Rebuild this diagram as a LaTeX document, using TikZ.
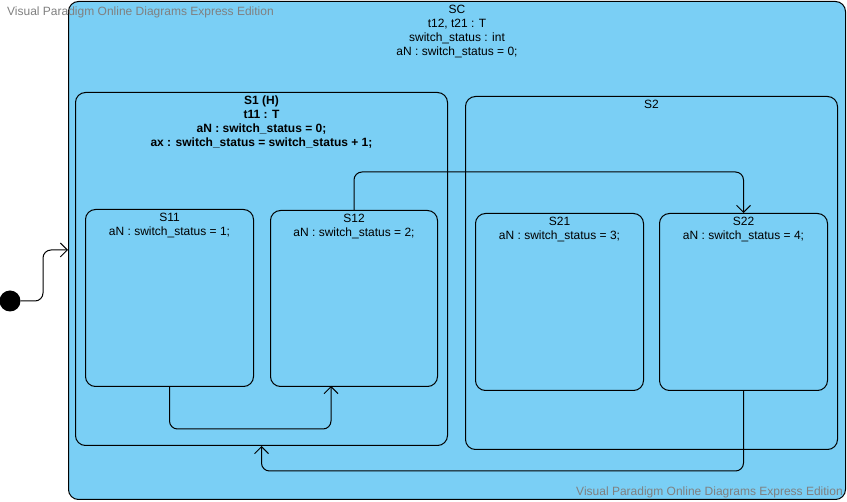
\documentclass[tikz,border=0pt]{standalone}
\usepackage{fontspec}
\setmainfont{Liberation Sans}
\usetikzlibrary{arrows.meta,calc}
\definecolor{stfill}{RGB}{122,207,245}
\definecolor{wmgray}{RGB}{128,128,128}
\begin{document}
\begin{tikzpicture}[x=1pt,y=-1pt,
  statebox/.style={draw=black,line width=1pt,fill=stfill,rounded corners=10pt,inner sep=0pt,anchor=north west},
  stxt/.style={anchor=north,inner sep=0pt,align=center,font=\fontsize{12}{14}\selectfont},
  wm/.style={inner sep=0pt,text=wmgray,font=\fontsize{12}{14}\selectfont},
  conn/.style={draw=black,line width=1pt,rounded corners=8pt,-{Straight Barb[length=7pt,width=14pt,line width=1pt]}}]
\useasboundingbox (0,0) rectangle (847,502);
\fill[white] (0,0) rectangle (847,502);
% containers
\node[statebox,minimum width=777pt,minimum height=498pt] (SC) at (68,1) {};
\node[stxt] (SCt) at ($(SC.north)+(0,4)$) {SC\\t12, t21 : T\\switch\_status : int\\aN : switch\_status = 0;};
\node[statebox,minimum width=372pt,minimum height=353pt] (S1) at (75,92) {};
\node[stxt,font=\fontsize{12}{14}\selectfont\bfseries] (S1t) at ($(S1.north)+(0,4)$) {S1 (H)\\t11 : T\\aN : switch\_status = 0;\\ax : switch\_status = switch\_status + 1;};
\node[statebox,minimum width=372pt,minimum height=353pt] (S2) at (465,96) {};
\node[stxt] (S2t) at ($(S2.north)+(0,4)$) {S2};
\node[statebox,minimum width=168pt,minimum height=177pt] (S11) at (85,209) {};
\node[stxt] (S11t) at ($(S11.north)+(0,4)$) {S11\\aN : switch\_status = 1;};
\node[statebox,minimum width=167pt,minimum height=176pt] (S12) at (270,210) {};
\node[stxt] (S12t) at ($(S12.north)+(0,4)$) {S12\\aN : switch\_status = 2;};
\node[statebox,minimum width=168pt,minimum height=177pt] (S21) at (475,213) {};
\node[stxt] (S21t) at ($(S21.north)+(0,4)$) {S21\\aN : switch\_status = 3;};
\node[statebox,minimum width=168pt,minimum height=177pt] (S22) at (659,213) {};
\node[stxt] (S22t) at ($(S22.north)+(0,4)$) {S22\\aN : switch\_status = 4;};
% initial state
\node[circle,fill=black,inner sep=0pt,minimum size=21pt] (init) at (10,301) {};
\coordinate (entry) at (68,250);
\coordinate (s12in) at (331,386);
% transitions
\draw[conn] (init.east) -- (43,301) -- (43,250) -- (entry);
\draw[conn] (S12.north) -- ++(0,-38) -| (S22.north);
\draw[conn] (S11.south) -- ++(0,42) -| (s12in);
\draw[conn] (S22.south) -- ++(0,80) -| (S1.south);
% watermarks
\node[wm,anchor=west] (wm1) at (7,12) {Visual Paradigm Online Diagrams Express Edition};
\node[wm,anchor=east] (wm2) at (843,492) {Visual Paradigm Online Diagrams Express Edition};
\end{tikzpicture}
\end{document}
